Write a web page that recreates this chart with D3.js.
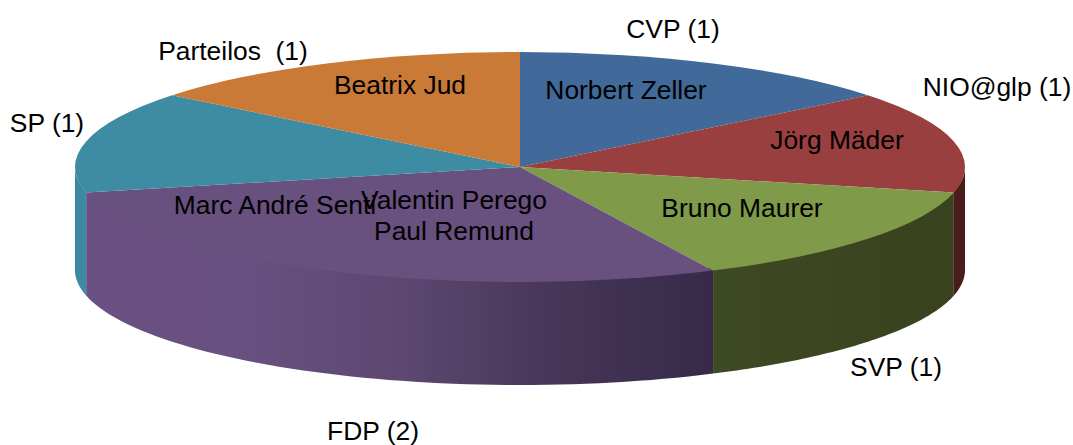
<!DOCTYPE html>
<html><head><meta charset="utf-8">
<script src="https://cdn.jsdelivr.net/npm/d3@7"></script>
<style>html,body{margin:0;padding:0;background:#fff}svg{display:block}text{font-family:"Liberation Sans",Arial,sans-serif;font-size:26.4px;fill:#000}</style>
</head><body><div id="chart"></div>
<script>
const parties = ["CVP (1)","NIO@glp (1)","SVP (1)","FDP (2)","SP (1)","Parteilos  (1)"];
const seats = [1,1,1,2,1,1];
const topColors = ["#41699a","#9a3f3f","#7f9a48","#68507f","#3e8ba4","#c97a37"];
const wallStops = [
  ["#2f4c70","#2f4c70"],
  ["#4a1c1c","#4a1c1c"],
  ["#3e4a23","#39411f"],
  ["#6a5082","#685080","#5c4871","#463658","#372a49"],
  ["#3a879e","#3e8ba4"],
  ["#94592a","#94592a"]
];
const members = ["Norbert Zeller","Jörg Mäder","Bruno Maurer","Marc André Senti","Valentin Perego","Paul Remund","Beatrix Jud"];

const W=1073,H=445,cx=520,cy=167,rx=445,ry=115,depth=103;
const svg=d3.select("#chart").append("svg").attr("width",W).attr("height",H);
const defs=svg.append("defs");
const arcs=d3.pie().sort(null).value(d=>d)(seats);
const px=a=>cx+rx*Math.sin(a), py=a=>cy-ry*Math.cos(a);
const HALF=Math.PI/2, END=3*Math.PI/2;
const line=d3.line();

// visible side walls, drawn with their slice angles clipped to the front half
arcs.forEach((d,i)=>{
  const a0=Math.max(d.startAngle,HALF), a1=Math.min(d.endAngle,END);
  if(a1<=a0) return;
  const id="wall"+i;
  const stops=wallStops[i];
  const g=defs.append("linearGradient").attr("id",id).attr("gradientUnits","userSpaceOnUse")
    .attr("x1",Math.min(px(a0),px(a1))).attr("x2",Math.max(px(a0),px(a1))).attr("y1",0).attr("y2",0);
  stops.forEach((c,k)=>g.append("stop").attr("offset",k/(stops.length-1)).attr("stop-color",c));
  const ts=d3.range(0,61).map(k=>a0+(a1-a0)*k/60);
  // upper edge tucked slightly under the top face so no light seam shows
  const pts=ts.map(a=>[px(a),cy+(py(a)-cy)*0.97]).concat(ts.slice().reverse().map(a=>[px(a),py(a)+depth]));
  svg.append("path").attr("d",line(pts)+"Z").attr("fill",`url(#${id})`);
});

// top face
const topFace=svg.append("g").attr("transform",`translate(${cx},${cy}) scale(1,${ry/rx})`);
topFace.selectAll("path").data(arcs).join("path")
  .attr("d",d3.arc().innerRadius(0).outerRadius(rx))
  .attr("fill",(d,i)=>topColors[i]);

// party labels outside
const partyPos=[[673,29],[997,87],[896,367],[373,431],[47,123],[233,51]];
svg.append("g").selectAll("text").data(parties).join("text")
  .attr("x",(d,i)=>partyPos[i][0]).attr("y",(d,i)=>partyPos[i][1]+9)
  .attr("text-anchor","middle").style("white-space","pre").text(d=>d);

// member labels inside
const memberPos=[[626,90],[837,140],[742,208],[275,205],[454,200],[454,231],[400,85]];
svg.append("g").selectAll("text").data(members).join("text")
  .attr("x",(d,i)=>memberPos[i][0]).attr("y",(d,i)=>memberPos[i][1]+9)
  .attr("text-anchor","middle").text(d=>d);
</script></body></html>
